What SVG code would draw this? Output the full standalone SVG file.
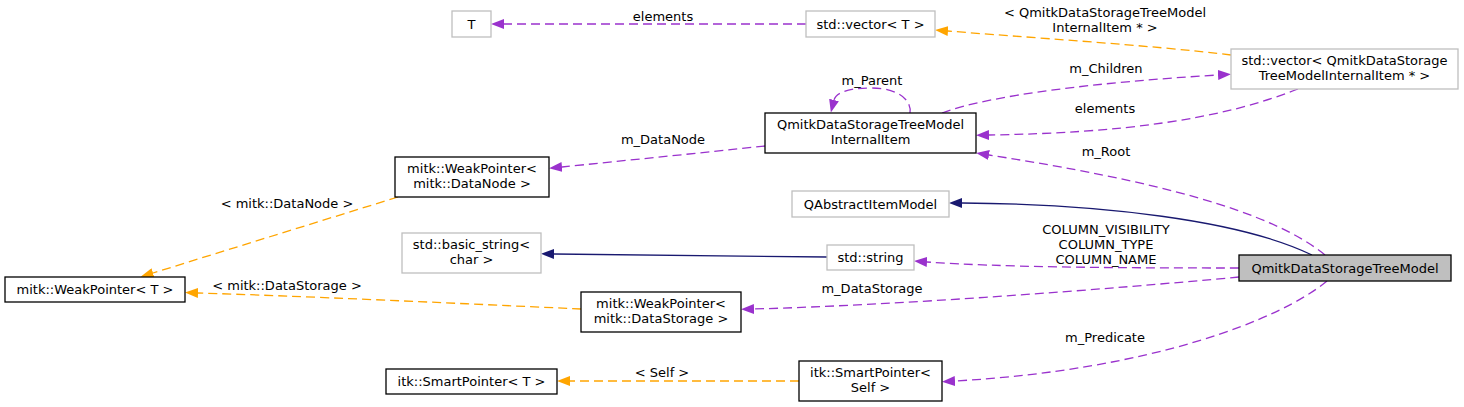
<svg xmlns="http://www.w3.org/2000/svg" width="1464" height="407" viewBox="0 0 1464 407">
<style>
text{font-family:"DejaVu Sans","Liberation Sans",sans-serif;font-size:13px;fill:#000;text-anchor:middle}
.nb rect{fill:#fff;stroke:#000;stroke-width:1.3}
.ng rect{fill:#fff;stroke:#bfbfbf;stroke-width:1.3}
.nr rect{fill:#bfbfbf;stroke:#000;stroke-width:1.3}
.e{fill:none;stroke-width:1.3}
.p{stroke:#9a32cd;stroke-dasharray:9,5}
.o{stroke:#ffa500;stroke-dasharray:9,5}
.n{stroke:#191970}
.p{marker-end:url(#ap)}
.o{marker-end:url(#ao)}
.n{marker-end:url(#an)}
</style>
<defs>
<marker id="ap" viewBox="0 0 13 10" refX="0" refY="5" markerWidth="13" markerHeight="10" markerUnits="userSpaceOnUse" orient="auto"><path d="M0,0 L13,5 L0,10 z" fill="#9a32cd"/></marker>
<marker id="ao" viewBox="0 0 13 10" refX="0" refY="5" markerWidth="13" markerHeight="10" markerUnits="userSpaceOnUse" orient="auto"><path d="M0,0 L13,5 L0,10 z" fill="#ffa500"/></marker>
<marker id="an" viewBox="0 0 13 10" refX="0" refY="5" markerWidth="13" markerHeight="10" markerUnits="userSpaceOnUse" orient="auto"><path d="M0,0 L13,5 L0,10 z" fill="#191970"/></marker>
</defs>
<rect width="1464" height="407" fill="#fff"/>
<g id="edges">
<path class="e p" d="M806,24 L504,24"/>
<text x="663" y="20.5">elements</text>
<path class="e o" d="M1231,55 C1150,45 1020,37 948,31"/>
<text x="1105" y="16.5">&lt; QmitkDataStorageTreeModel</text>
<text x="1105" y="31.5">InternalItem * &gt;</text>
<path class="e p" d="M942,113 C990,95 1100,82 1218,75"/>
<text x="1106" y="72.5">m_Children</text>
<path class="e p" d="M1298,89 C1220,120 1120,133 989,135"/>
<text x="1105" y="112.5">elements</text>
<path class="e p" d="M910,113 C912,100 898,88 871,88 C850,88 836,92 834,100"/>
<text x="872" y="84.5">m_Parent</text>
<path class="e p" d="M765,146 C700,153 620,161 562,167"/>
<text x="663" y="143.5">m_DataNode</text>
<path class="e o" d="M398,197 L153,273"/>
<text x="287" y="207.5">&lt; mitk::DataNode &gt;</text>
<path class="e o" d="M581,309 C450,303 300,296 198,293"/>
<text x="287" y="289.5">&lt; mitk::DataStorage &gt;</text>
<path class="e n" d="M1312,255 C1240,220 1100,204 962,203"/>
<path class="e n" d="M827,257 L554,254"/>
<path class="e p" d="M1325,255 C1270,210 1150,180 989,155"/>
<text x="1106" y="155.5">m_Root</text>
<path class="e p" d="M1239,268 C1100,268 1000,267 927,262"/>
<text x="1106" y="233.5">COLUMN_VISIBILITY</text>
<text x="1106" y="248.5">COLUMN_TYPE</text>
<text x="1106" y="263.5">COLUMN_NAME</text>
<path class="e p" d="M1239,277 C1100,290 900,305 754,309"/>
<text x="872" y="292.5">m_DataStorage</text>
<path class="e p" d="M1327,281 C1280,320 1150,370 955,381"/>
<text x="1105" y="341.5">m_Predicate</text>
<path class="e o" d="M799,381 L570,381"/>
<text x="662" y="376.5">&lt; Self &gt;</text>
</g>
<g id="node-T" class="ng"><rect x="452" y="11" width="39" height="26"/><text x="471.5" y="28.5">T</text></g>
<g id="node-vectorT" class="ng"><rect x="806" y="11" width="129" height="26"/><text x="870.5" y="28.5">std::vector&lt; T &gt;</text></g>
<g id="node-vectorItem" class="ng"><rect x="1231" y="49" width="227" height="40"/><text x="1344.5" y="65">std::vector&lt; QmitkDataStorage</text><text x="1344.5" y="80">TreeModelInternalItem * &gt;</text></g>
<g id="node-InternalItem" class="nb"><rect x="765" y="113" width="211" height="40"/><text x="870.5" y="129">QmitkDataStorageTreeModel</text><text x="870.5" y="144">InternalItem</text></g>
<g id="node-WeakPointerDataNode" class="nb"><rect x="395" y="157" width="154" height="40"/><text x="472" y="173">mitk::WeakPointer&lt;</text><text x="472" y="188"> mitk::DataNode &gt;</text></g>
<g id="node-QAbstractItemModel" class="ng"><rect x="792" y="191" width="157" height="26"/><text x="870.5" y="208.5">QAbstractItemModel</text></g>
<g id="node-basic_string" class="ng"><rect x="402" y="233" width="139" height="40"/><text x="471.5" y="249">std::basic_string&lt;</text><text x="471.5" y="264">char &gt;</text></g>
<g id="node-string" class="ng"><rect x="827" y="245" width="87" height="25"/><text x="870.5" y="262">std::string</text></g>
<g id="node-Root" class="nr"><rect x="1239" y="255" width="212" height="26"/><text x="1345" y="272.5">QmitkDataStorageTreeModel</text></g>
<g id="node-WeakPointerT" class="nb"><rect x="5" y="277" width="180" height="25"/><text x="95" y="294">mitk::WeakPointer&lt; T &gt;</text></g>
<g id="node-WeakPointerDataStorage" class="nb"><rect x="581" y="292" width="160" height="40"/><text x="661" y="308">mitk::WeakPointer&lt;</text><text x="661" y="323"> mitk::DataStorage &gt;</text></g>
<g id="node-SmartPointerT" class="nb"><rect x="386" y="369" width="171" height="25"/><text x="471.5" y="386">itk::SmartPointer&lt; T &gt;</text></g>
<g id="node-SmartPointerSelf" class="nb"><rect x="799" y="361" width="143" height="40"/><text x="870.5" y="377">itk::SmartPointer&lt;</text><text x="870.5" y="392">Self &gt;</text></g>
</svg>
